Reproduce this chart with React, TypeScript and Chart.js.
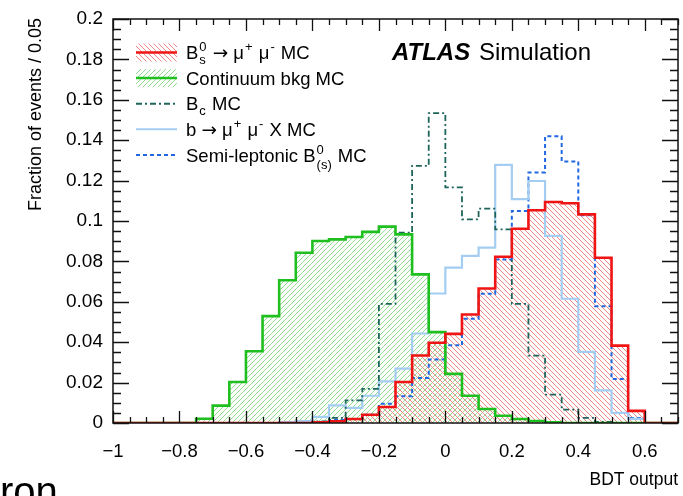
import React, { useEffect, useRef } from 'react';
import { Chart, registerables } from 'chart.js';

Chart.register(...registerables);

// ---- data ----
const binEdges = [
  -1, -0.95, -0.9, -0.85, -0.8, -0.75, -0.7, -0.65, -0.6, -0.55, -0.5, -0.45,
  -0.4, -0.35, -0.3, -0.25, -0.2, -0.15, -0.1, -0.05, 0, 0.05, 0.1, 0.15, 0.2,
  0.25, 0.3, 0.35, 0.4, 0.45, 0.5, 0.55, 0.6, 0.65, 0.7,
];

const signalBs = [
  0, 0, 0, 0, 0, 0, 0, 0, 0, 0, 0, 0,
  0.0004, 0.0008, 0.002, 0.0041, 0.0079, 0.0203, 0.0334, 0.0397, 0.0441, 0.0537,
  0.0666, 0.0823, 0.0962, 0.1053, 0.1094, 0.1088, 0.1033, 0.0818, 0.0383, 0.006,
  0, 0,
];

const continuumBkg = [
  0, 0, 0, 0, 0, 0.0021, 0.0086, 0.0203, 0.0355, 0.0529, 0.0707, 0.0843,
  0.0901, 0.0909, 0.0921, 0.0946, 0.0972, 0.0934, 0.0736, 0.045, 0.0243, 0.0135,
  0.0069, 0.0036, 0.002, 0.001, 0.0004, 0, 0, 0, 0, 0,
  0, 0,
];

const bcMC = [
  0, 0, 0, 0, 0, 0, 0, 0, 0, 0, 0, 0,
  0.0008, 0.0025, 0.0112, 0.0169, 0.059, 0.0942, 0.1273, 0.1534, 0.1166, 0.1008,
  0.1061, 0.0959, 0.059, 0.0334, 0.014, 0.0066, 0.0025, 0.0005, 0, 0,
  0, 0,
];

const bToMuMuX = [
  0, 0, 0, 0, 0, 0, 0, 0, 0, 0, 0.0005, 0.001,
  0.003, 0.0087, 0.0075, 0.0135, 0.0206, 0.0269, 0.0443, 0.0641, 0.0769, 0.0827,
  0.0868, 0.1278, 0.1108, 0.1198, 0.0926, 0.0615, 0.0352, 0.0162, 0.005, 0.002,
  0, 0,
];

const semiLeptonic = [
  0, 0, 0, 0, 0, 0, 0, 0, 0, 0, 0, 0,
  0.0005, 0.0015, 0.002, 0.0041, 0.0095, 0.0132, 0.0223, 0.0314, 0.0385, 0.0516,
  0.064, 0.081, 0.105, 0.124, 0.1419, 0.1295, 0.1028, 0.0578, 0.0218, 0.0025,
  0, 0,
];

const xTickValues = [-1, -0.8, -0.6, -0.4, -0.2, 0, 0.2, 0.4, 0.6];
const yTickValues = [0, 0.02, 0.04, 0.06, 0.08, 0.1, 0.12, 0.14, 0.16, 0.18, 0.2];

const X_MIN = -1;
const X_MAX = 0.7;
const Y_MIN = 0;
const Y_MAX = 0.2;
const X_MINOR = 0.05;
const Y_MINOR = 0.005;

const FONT = "'Liberation Sans', Arial, Helvetica, sans-serif";
const ARROW_FONT = "'DejaVu Sans', sans-serif";

const COLORS = {
  red: '#f01414',
  redHatch: 'rgb(240,135,135)',
  green: '#1fbf1f',
  greenHatch: 'rgb(145,222,145)',
  teal: '#1d655b',
  lightBlue: '#a3cdf2',
  blue: '#2168e0',
};

function toSteps(vals: number[]) {
  const pts = vals.map((v, i) => ({ x: binEdges[i], y: v }));
  pts.push({ x: binEdges[vals.length], y: 0 });
  return pts;
}

function makeHatch(color: string, dir: 'back' | 'fwd', s: number): CanvasPattern | string {
  const c = document.createElement('canvas');
  c.width = s;
  c.height = s;
  const g = c.getContext('2d');
  if (!g) return color;
  g.strokeStyle = color;
  g.lineWidth = 1;
  g.beginPath();
  if (dir === 'back') {
    g.moveTo(-1, -1);
    g.lineTo(s + 1, s + 1);
    g.moveTo(-1, s - 1);
    g.lineTo(1, s + 1);
    g.moveTo(s - 1, -1);
    g.lineTo(s + 1, 1);
  } else {
    g.moveTo(-1, s + 1);
    g.lineTo(s + 1, -1);
    g.moveTo(-1, 1);
    g.lineTo(1, -1);
    g.moveTo(s - 1, s + 1);
    g.lineTo(s + 1, s - 1);
  }
  g.stroke();
  const p = g.createPattern(c, 'repeat');
  return p || color;
}

type Seg = { t?: string; sup?: string; sub?: string; arrow?: boolean };

function drawRich(ctx: CanvasRenderingContext2D, segs: Seg[], x: number, yBase: number, size: number) {
  const small = Math.round(size * 0.68);
  let cx = x;
  for (const s of segs) {
    if (s.arrow) {
      ctx.font = `${size}px ${ARROW_FONT}`;
      ctx.fillText('\u2192', cx, yBase);
      cx += ctx.measureText('\u2192').width;
    } else if (s.t) {
      ctx.font = `${size}px ${FONT}`;
      ctx.fillText(s.t, cx, yBase);
      cx += ctx.measureText(s.t).width;
    } else {
      ctx.font = `${small}px ${FONT}`;
      let w = 0;
      if (s.sup) {
        ctx.fillText(s.sup, cx + 1, yBase - size * 0.42);
        w = Math.max(w, ctx.measureText(s.sup).width);
      }
      if (s.sub) {
        ctx.fillText(s.sub, cx + 1, yBase + size * (s.sub.length > 1 ? 0.42 : 0.25));
        w = Math.max(w, ctx.measureText(s.sub).width);
      }
      cx += w + 2;
    }
  }
}

const legendEntries: { segs: Seg[]; key: string }[] = [
  { key: 'sig', segs: [{ t: 'B' }, { sup: '0', sub: 's' }, { t: ' ' }, { arrow: true }, { t: ' \u03bc' }, { sup: '+' }, { t: ' \u03bc' }, { sup: '-' }, { t: ' MC' }] },
  { key: 'bkg', segs: [{ t: 'Continuum bkg MC' }] },
  { key: 'bc', segs: [{ t: 'B' }, { sub: 'c' }, { t: ' MC' }] },
  { key: 'bx', segs: [{ t: 'b ' }, { arrow: true }, { t: ' \u03bc' }, { sup: '+' }, { t: ' \u03bc' }, { sup: '-' }, { t: ' X MC' }] },
  { key: 'sl', segs: [{ t: 'Semi-leptonic B' }, { sup: '0', sub: '(s)' }, { t: ' MC' }] },
];

export default function App() {
  const ref = useRef<HTMLCanvasElement | null>(null);

  useEffect(() => {
    const canvas = ref.current;
    if (!canvas) return;
    const redHatch = makeHatch(COLORS.redHatch, 'back', 5);
    const greenHatch = makeHatch(COLORS.greenHatch, 'fwd', 5);

    const decor = {
      id: 'decor',
      afterDraw(chart: any) {
        const ctx: CanvasRenderingContext2D = chart.ctx;
        const { left, right, top, bottom } = chart.chartArea;
        const xs = chart.scales.x;
        const ys = chart.scales.y;
        ctx.save();
        // frame
        ctx.strokeStyle = '#111';
        ctx.lineWidth = 1.5;
        ctx.strokeRect(left, top, right - left, bottom - top);
        // ticks
        ctx.lineWidth = 1.3;
        ctx.beginPath();
        const nx = Math.round((X_MAX - X_MIN) / X_MINOR);
        for (let i = 0; i <= nx; i++) {
          const v = X_MIN + i * X_MINOR;
          const px = Math.round(xs.getPixelForValue(v)) + 0.5;
          const len = i % 4 === 0 ? 12 : 6;
          ctx.moveTo(px, bottom);
          ctx.lineTo(px, bottom - len);
          ctx.moveTo(px, top);
          ctx.lineTo(px, top + len);
        }
        const ny = Math.round((Y_MAX - Y_MIN) / Y_MINOR);
        for (let i = 0; i <= ny; i++) {
          const v = Y_MIN + i * Y_MINOR;
          const py = Math.round(ys.getPixelForValue(v)) + 0.5;
          const len = i % 4 === 0 ? 16 : 8;
          ctx.moveTo(left, py);
          ctx.lineTo(left + len, py);
          ctx.moveTo(right, py);
          ctx.lineTo(right - len, py);
        }
        ctx.stroke();

        // axis titles
        ctx.fillStyle = '#000';
        ctx.textAlign = 'right';
        ctx.textBaseline = 'alphabetic';
        ctx.font = `17.5px ${FONT}`;
        ctx.fillText('BDT output', right, 485);
        ctx.save();
        ctx.font = `18px ${FONT}`;
        ctx.translate(41, top - 1);
        ctx.rotate(-Math.PI / 2);
        ctx.textAlign = 'right';
        ctx.fillText('Fraction of events / 0.05', 0, 0);
        ctx.restore();

        // ATLAS Simulation
        ctx.textAlign = 'left';
        ctx.font = `italic bold 24px ${FONT}`;
        ctx.fillText('ATLAS', 392, 60);
        ctx.font = `24px ${FONT}`;
        ctx.fillText('Simulation', 479, 60);

        // legend
        const sx0 = 136;
        const sx1 = 177;
        legendEntries.forEach((e, i) => {
          const cy = 52.5 + i * 25.6;
          ctx.save();
          if (e.key === 'sig' || e.key === 'bkg') {
            ctx.fillStyle = e.key === 'sig' ? (redHatch as any) : (greenHatch as any);
            ctx.fillRect(sx0, cy - 9, sx1 - sx0, 18);
            ctx.strokeStyle = e.key === 'sig' ? COLORS.red : COLORS.green;
            ctx.lineWidth = 2.5;
            ctx.setLineDash([]);
          } else if (e.key === 'bc') {
            ctx.strokeStyle = COLORS.teal;
            ctx.lineWidth = 2;
            ctx.setLineDash([6, 3, 2, 3]);
          } else if (e.key === 'bx') {
            ctx.strokeStyle = COLORS.lightBlue;
            ctx.lineWidth = 2;
            ctx.setLineDash([]);
          } else {
            ctx.strokeStyle = COLORS.blue;
            ctx.lineWidth = 2;
            ctx.setLineDash([4, 3]);
          }
          ctx.beginPath();
          ctx.moveTo(sx0, cy);
          ctx.lineTo(sx1, cy);
          ctx.stroke();
          ctx.restore();
          ctx.fillStyle = '#000';
          ctx.textAlign = 'left';
          drawRich(ctx, e.segs, 186, cy + 6.6, 18.5);
        });

        // cropped caption fragment at bottom
        ctx.font = `40px ${FONT}`;
        ctx.fillStyle = '#000';
        ctx.textAlign = 'left';
        ctx.fillText('ron', 0, 505);
        ctx.restore();
      },
    };

    const fmtX = (v: number) => {
      const r = Math.round(v * 10) / 10;
      if (r === 0) return '0';
      return (r < 0 ? '\u2212' : '') + String(Math.abs(r));
    };
    const fmtY = (v: number) => String(Math.round(v * 100) / 100);

    const common = { pointRadius: 0, stepped: 'before' as const, tension: 0 };

    const chart = new Chart(canvas, {
      type: 'line',
      data: {
        datasets: [
          {
            ...common,
            label: 'Bs',
            data: toSteps(signalBs),
            borderColor: COLORS.red,
            borderWidth: 2.6,
            backgroundColor: redHatch as any,
            fill: 'origin',
          },
          {
            ...common,
            label: 'Continuum',
            data: toSteps(continuumBkg),
            borderColor: COLORS.green,
            borderWidth: 2.6,
            backgroundColor: greenHatch as any,
            fill: 'origin',
          },
          {
            ...common,
            label: 'Bc',
            data: toSteps(bcMC),
            borderColor: COLORS.teal,
            borderWidth: 1.8,
            borderDash: [6, 3, 2, 3],
            fill: false,
          },
          {
            ...common,
            label: 'bmumuX',
            data: toSteps(bToMuMuX),
            borderColor: COLORS.lightBlue,
            borderWidth: 2.2,
            fill: false,
          },
          {
            ...common,
            label: 'semi',
            data: toSteps(semiLeptonic),
            borderColor: COLORS.blue,
            borderWidth: 2,
            borderDash: [4, 3],
            fill: false,
          },
        ] as any,
      },
      options: {
        responsive: false,
        animation: false,
        events: [],
        layout: { padding: { top: 19, right: 5, left: 0, bottom: 0 } },
        plugins: {
          legend: { display: false },
          tooltip: { enabled: false },
          filler: { drawTime: 'beforeDatasetsDraw' } as any,
        },
        scales: {
          x: {
            type: 'linear',
            min: X_MIN,
            max: X_MAX,
            grid: { display: false },
            border: { display: false },
            afterBuildTicks: (s: any) => {
              s.ticks = xTickValues.map((v) => ({ value: v }));
            },
            afterFit: (s: any) => {
              s.height = 73;
            },
            ticks: {
              padding: 10,
              maxRotation: 0,
              autoSkip: false,
              color: '#000',
              font: { family: FONT, size: 18.5 },
              callback: (v: any) => fmtX(Number(v)),
            },
          },
          y: {
            type: 'linear',
            min: Y_MIN,
            max: Y_MAX,
            grid: { display: false },
            border: { display: false },
            afterBuildTicks: (s: any) => {
              s.ticks = yTickValues.map((v) => ({ value: v }));
            },
            afterFit: (s: any) => {
              s.width = 113;
            },
            ticks: {
              padding: 2,
              autoSkip: false,
              color: '#000',
              font: { family: FONT, size: 19 },
              callback: (v: any) => fmtY(Number(v)),
            },
          },
        },
      },
      plugins: [decor],
    });

    return () => {
      chart.destroy();
    };
  }, []);

  return (
    <div style={{ position: 'fixed', left: 0, top: 0, width: 683, height: 496, overflow: 'hidden', background: '#fff' }}>
      <canvas ref={ref} width={683} height={496} style={{ display: 'block', width: 683, height: 496 }} />
    </div>
  );
}
